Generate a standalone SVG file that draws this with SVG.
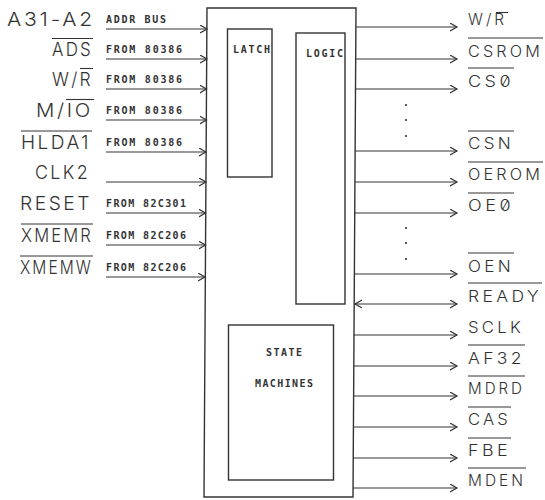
<svg xmlns="http://www.w3.org/2000/svg" width="545" height="500" viewBox="0 0 545 500">
<style>
.ln{stroke:#333;stroke-width:1.2;fill:none}
.box{stroke:#333;stroke-width:1.4;fill:none}
.big{font-family:Inter,"DejaVu Sans",sans-serif;font-weight:300;font-size:19px;fill:#333;font-feature-settings:"zero";letter-spacing:2.5px}
.out{font-family:Inter,"DejaVu Sans",sans-serif;font-weight:300;font-size:15.5px;fill:#333;font-feature-settings:"zero";letter-spacing:3px}
.sm{font-family:"DejaVu Sans Mono","Liberation Mono",monospace;font-size:10px;font-weight:bold;fill:#333}
.ov{stroke:#333;stroke-width:1.1}
.dot{fill:#333}
</style>
<defs>
<marker id="ah" markerUnits="userSpaceOnUse" markerWidth="10" markerHeight="10" refX="7" refY="4" orient="auto-start-reverse"><path d="M0,0 L7,4 L0,8" fill="none" stroke="#333" stroke-width="1.2"/></marker>
</defs>
<rect width="545" height="500" fill="#fff"/>

<g id="chip"><path class="box" d="M207,8 L356,8 L353,497 L204,497 Z"/></g>
<g id="latch"><rect class="box" x="227.5" y="29" width="44.5" height="148"/><text class="sm" x="233" y="53" textLength="37" lengthAdjust="spacing">LATCH</text></g>
<g id="logic"><rect class="box" x="296" y="33" width="49" height="271"/><text class="sm" x="306" y="57" textLength="37" lengthAdjust="spacing">LOGIC</text></g>
<g id="state-machines"><rect class="box" x="228.5" y="325" width="105" height="155"/><text class="sm" x="266" y="356" textLength="36" lengthAdjust="spacing">STATE</text><text class="sm" x="255" y="387" textLength="58" lengthAdjust="spacing">MACHINES</text></g>

<g id="connectors">
<line class="ln" x1="106" y1="29" x2="207" y2="29" marker-end="url(#ah)"/>
<line class="ln" x1="106" y1="59" x2="207" y2="59" marker-end="url(#ah)"/>
<line class="ln" x1="106" y1="89" x2="206.5" y2="89" marker-end="url(#ah)"/>
<line class="ln" x1="106" y1="120" x2="206.5" y2="120" marker-end="url(#ah)"/>
<line class="ln" x1="106" y1="152" x2="206" y2="152" marker-end="url(#ah)"/>
<line class="ln" x1="106" y1="182" x2="206" y2="182" marker-end="url(#ah)"/>
<line class="ln" x1="106" y1="213" x2="205.5" y2="213" marker-end="url(#ah)"/>
<line class="ln" x1="106" y1="245" x2="205.5" y2="245" marker-end="url(#ah)"/>
<line class="ln" x1="106" y1="277" x2="205" y2="277" marker-end="url(#ah)"/>

<line class="ln" x1="356" y1="27" x2="457" y2="27" marker-end="url(#ah)"/>
<line class="ln" x1="356" y1="59" x2="457" y2="59" marker-end="url(#ah)"/>
<line class="ln" x1="356" y1="89" x2="457" y2="89" marker-end="url(#ah)"/>
<line class="ln" x1="355" y1="151" x2="457" y2="151" marker-end="url(#ah)"/>
<line class="ln" x1="355" y1="182" x2="457" y2="182" marker-end="url(#ah)"/>
<line class="ln" x1="355" y1="213" x2="457" y2="213" marker-end="url(#ah)"/>
<line class="ln" x1="355" y1="274" x2="457" y2="274" marker-end="url(#ah)"/>
<line class="ln" x1="355" y1="304" x2="457" y2="304" marker-start="url(#ah)" marker-end="url(#ah)"/>
<line class="ln" x1="354" y1="335" x2="457" y2="335" marker-end="url(#ah)"/>
<line class="ln" x1="354" y1="366" x2="457" y2="366" marker-end="url(#ah)"/>
<line class="ln" x1="354" y1="396" x2="457" y2="396" marker-end="url(#ah)"/>
<line class="ln" x1="354" y1="427" x2="457" y2="427" marker-end="url(#ah)"/>
<line class="ln" x1="353" y1="458" x2="457" y2="458" marker-end="url(#ah)"/>
<line class="ln" x1="353" y1="488" x2="457" y2="488" marker-end="url(#ah)"/>
<circle class="dot" cx="406" cy="105" r="1.1"/><circle class="dot" cx="406" cy="120" r="1.1"/><circle class="dot" cx="406" cy="136" r="1.1"/>
<circle class="dot" cx="406" cy="228" r="1.1"/><circle class="dot" cx="406" cy="243" r="1.1"/><circle class="dot" cx="406" cy="259" r="1.1"/>
</g>

<g id="inputs">
<text class="big" x="7" y="26" textLength="88" lengthAdjust="spacingAndGlyphs">A31-A2</text>
<text class="sm" x="106" y="23" textLength="60" lengthAdjust="spacing">ADDR BUS</text>
<text class="big" x="52" y="56" textLength="41" lengthAdjust="spacingAndGlyphs">ADS</text><line class="ov" x1="52" y1="38.5" x2="93" y2="38.5"/>
<text class="sm" x="106" y="53" textLength="76" lengthAdjust="spacing">FROM 80386</text>
<text class="big" x="52" y="86" textLength="41" lengthAdjust="spacingAndGlyphs">W/R</text><line class="ov" x1="80" y1="68.5" x2="93" y2="68.5"/>
<text class="sm" x="106" y="83" textLength="76" lengthAdjust="spacing">FROM 80386</text>
<text class="big" x="36" y="117" textLength="57" lengthAdjust="spacingAndGlyphs">M/IO</text><line class="ov" x1="66" y1="99.5" x2="94" y2="99.5"/>
<text class="sm" x="106" y="114" textLength="76" lengthAdjust="spacing">FROM 80386</text>
<text class="big" x="21" y="149" textLength="70" lengthAdjust="spacingAndGlyphs">HLDA1</text><line class="ov" x1="21" y1="131" x2="92" y2="131"/>
<text class="sm" x="106" y="146" textLength="76" lengthAdjust="spacing">FROM 80386</text>
<text class="big" x="35" y="179" textLength="55" lengthAdjust="spacingAndGlyphs">CLK2</text>
<text class="big" x="20" y="210" textLength="72" lengthAdjust="spacingAndGlyphs">RESET</text>
<text class="sm" x="106" y="207" textLength="80" lengthAdjust="spacing">FROM 82C301</text>
<text class="big" x="21" y="242" textLength="72" lengthAdjust="spacingAndGlyphs">XMEMR</text><line class="ov" x1="21" y1="224" x2="93" y2="224"/>
<text class="sm" x="106" y="239" textLength="80" lengthAdjust="spacing">FROM 82C206</text>
<text class="big" x="20" y="274" textLength="73" lengthAdjust="spacingAndGlyphs">XMEMW</text><line class="ov" x1="20" y1="256" x2="93" y2="256"/>
<text class="sm" x="106" y="271" textLength="80" lengthAdjust="spacing">FROM 82C206</text>
</g>

<g id="outputs">
<text class="out" x="468" y="25" textLength="39" lengthAdjust="spacingAndGlyphs">W/R</text><line class="ov" x1="496" y1="12.5" x2="508" y2="12.5"/>
<text class="out" x="468" y="57" textLength="75" lengthAdjust="spacingAndGlyphs">CSROM</text><line class="ov" x1="468" y1="38" x2="543" y2="38"/>
<text class="out" x="468" y="87" textLength="46" lengthAdjust="spacingAndGlyphs">CS0</text><line class="ov" x1="468" y1="68" x2="514" y2="68"/>
<text class="out" x="468" y="149" textLength="46" lengthAdjust="spacingAndGlyphs">CSN</text><line class="ov" x1="468" y1="131" x2="514" y2="131"/>
<text class="out" x="468" y="180" textLength="75" lengthAdjust="spacingAndGlyphs">OEROM</text><line class="ov" x1="468" y1="162" x2="543" y2="162"/>
<text class="out" x="468" y="211" textLength="46" lengthAdjust="spacingAndGlyphs">OE0</text><line class="ov" x1="468" y1="193" x2="514" y2="193"/>
<text class="out" x="468" y="272" textLength="46" lengthAdjust="spacingAndGlyphs">OEN</text><line class="ov" x1="468" y1="253" x2="514" y2="253"/>
<text class="out" x="468" y="302" textLength="74" lengthAdjust="spacingAndGlyphs">READY</text><line class="ov" x1="468" y1="283" x2="542" y2="283"/>
<text class="out" x="468" y="333" textLength="56" lengthAdjust="spacingAndGlyphs">SCLK</text>
<text class="out" x="468" y="364" textLength="57" lengthAdjust="spacingAndGlyphs">AF32</text><line class="ov" x1="468" y1="345" x2="525" y2="345"/>
<text class="out" x="468" y="394" textLength="57" lengthAdjust="spacingAndGlyphs">MDRD</text><line class="ov" x1="468" y1="376" x2="525" y2="376"/>
<text class="out" x="468" y="425" textLength="43" lengthAdjust="spacingAndGlyphs">CAS</text><line class="ov" x1="468" y1="407" x2="511" y2="407"/>
<text class="out" x="468" y="456" textLength="43" lengthAdjust="spacingAndGlyphs">FBE</text><line class="ov" x1="468" y1="438" x2="511" y2="438"/>
<text class="out" x="468" y="486" textLength="58" lengthAdjust="spacingAndGlyphs">MDEN</text><line class="ov" x1="468" y1="468" x2="526" y2="468"/>
</g>
</svg>
